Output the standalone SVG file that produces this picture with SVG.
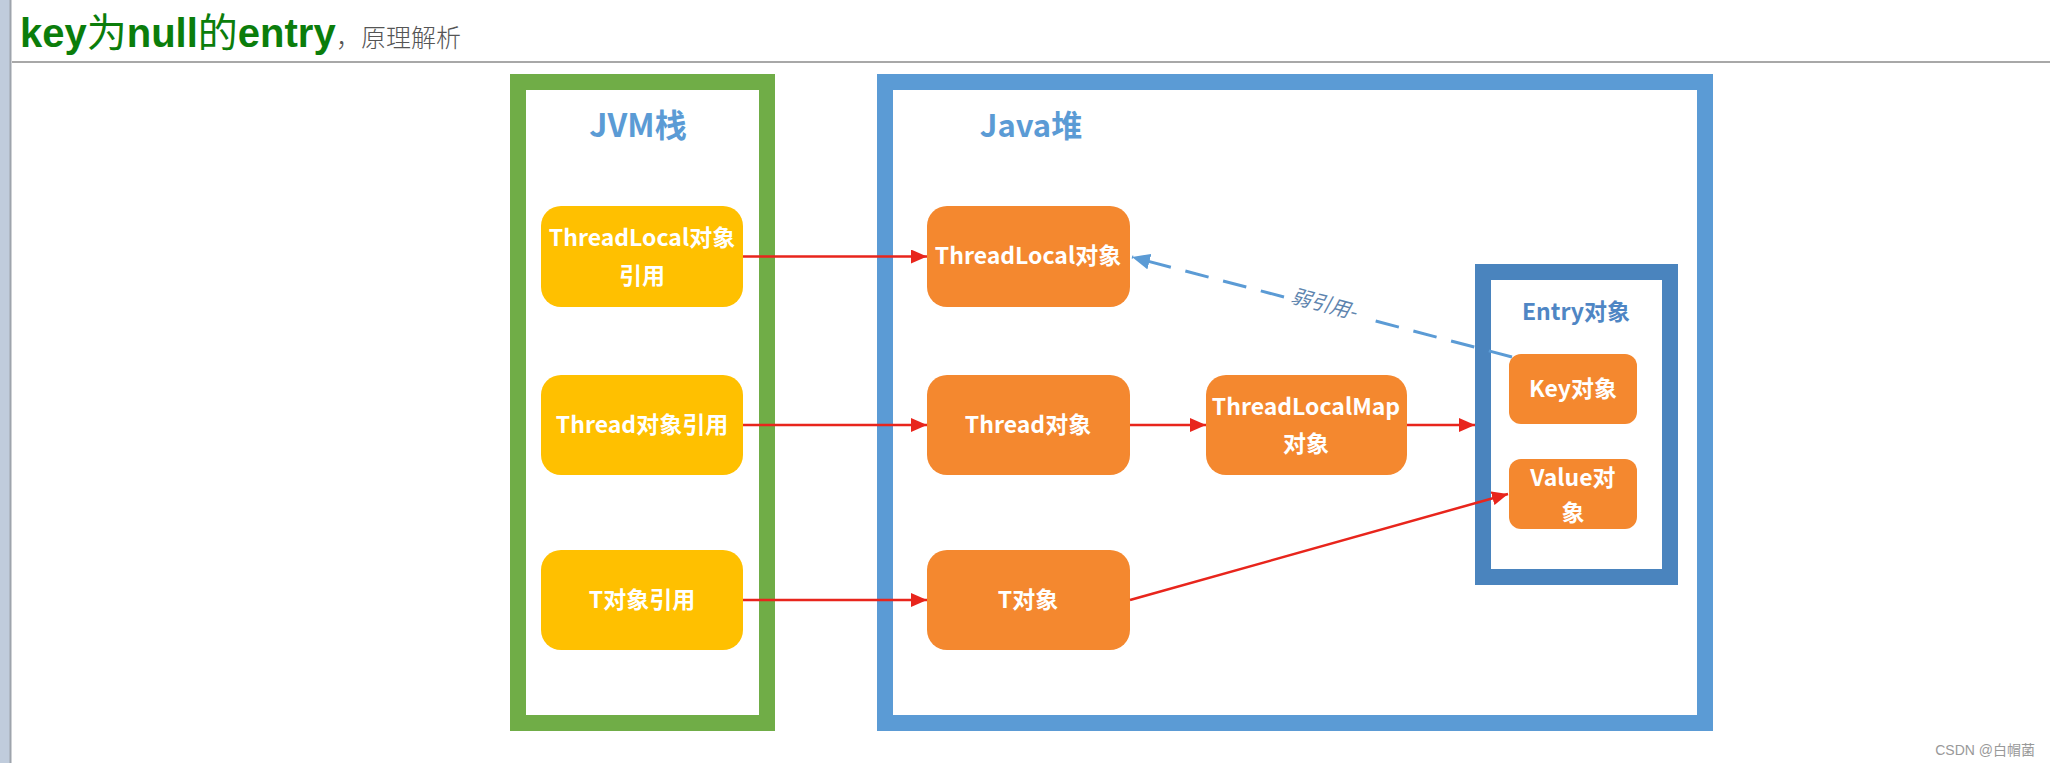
<svg xmlns="http://www.w3.org/2000/svg" width="2050" height="763" viewBox="0 0 2050 763">
  <style>
    .cjk { font-family: "Noto Sans CJK SC", "Noto Sans", sans-serif; }
    .boxtxt { font-family: "Noto Sans CJK SC", "Noto Sans", sans-serif; font-weight: bold; font-size: 23px; fill: #ffffff; text-anchor: middle; }
    .yellow { fill: #FFC000; }
    .orange { fill: #F4882F; }
    .region { fill: none; stroke-width: 16; }
    .title { font-family: "Noto Sans CJK SC", "Noto Sans", sans-serif; font-weight: bold; text-anchor: middle; }
    .red { stroke: #E8251C; stroke-width: 2.5; fill: none; }
    .weak { stroke: #5B9BD5; stroke-width: 3; fill: none; stroke-dasharray: 24 15; }
  </style>
  <defs>
    <marker id="arrRed" markerUnits="userSpaceOnUse" markerWidth="16" markerHeight="14" refX="16" refY="7" orient="auto">
      <path d="M0,0 L16,7 L0,14 z" fill="#E8251C"/>
    </marker>
    <marker id="arrBlue" markerUnits="userSpaceOnUse" markerWidth="18" markerHeight="16" refX="18" refY="8" orient="auto">
      <path d="M0,0 L18,8 L0,16 z" fill="#5B9BD5"/>
    </marker>
  </defs>

  <rect x="0" y="0" width="2050" height="763" fill="#ffffff"/>

  <!-- page chrome -->
  <g id="page">
    <rect x="0" y="0" width="10" height="763" fill="#C0CCDC"/>
    <line x1="10.5" y1="0" x2="10.5" y2="763" stroke="#9EA4AC" stroke-width="2"/>
    <line x1="12" y1="62" x2="2050" y2="62" stroke="#A8A8A8" stroke-width="2"/>
    <text x="20" y="47" font-family="'Liberation Sans', 'Noto Sans CJK SC', sans-serif" font-weight="bold" font-size="40" fill="#0B7D0B">key<tspan font-family="'Noto Sans CJK SC', sans-serif" font-weight="normal">为</tspan>null<tspan font-family="'Noto Sans CJK SC', sans-serif" font-weight="normal">的</tspan>entry</text>
    <text x="336" y="47" font-family="'Noto Sans CJK SC', sans-serif" font-weight="300" font-size="25" fill="#555555">，原理解析</text>
    <text x="2035" y="755" font-family="'Liberation Sans', 'Noto Sans CJK SC', sans-serif" font-size="14" fill="#999999" text-anchor="end">CSDN @白帽菌</text>
  </g>

  <!-- regions -->
  <g id="jvm-stack">
    <rect class="region" x="518" y="82" width="249" height="641" stroke="#70AD47"/>
    <text class="title" x="638" y="137" font-size="32" fill="#5B9BD5">JVM栈</text>
  </g>
  <g id="java-heap">
    <rect class="region" x="885" y="82" width="820" height="641" stroke="#5B9BD5"/>
    <text class="title" x="1031" y="137" font-size="31" fill="#5B9BD5">Java堆</text>
  </g>
  <g id="entry">
    <rect class="region" x="1483" y="272" width="187" height="305" stroke="#4A84BE"/>
    <text class="title" x="1576" y="320" font-size="23" fill="#4F86C4">Entry对象</text>
  </g>

  <!-- stack nodes -->
  <g id="tl-ref">
    <rect class="yellow" x="541" y="206" width="202" height="101" rx="20"/>
    <text class="boxtxt" x="642" y="246">ThreadLocal对象</text>
    <text class="boxtxt" x="642" y="284">引用</text>
  </g>
  <g id="thread-ref">
    <rect class="yellow" x="541" y="375" width="202" height="100" rx="20"/>
    <text class="boxtxt" x="642" y="433">Thread对象引用</text>
  </g>
  <g id="t-ref">
    <rect class="yellow" x="541" y="550" width="202" height="100" rx="20"/>
    <text class="boxtxt" x="642" y="608">T对象引用</text>
  </g>

  <!-- heap nodes -->
  <g id="tl-obj">
    <rect class="orange" x="927" y="206" width="203" height="101" rx="20"/>
    <text class="boxtxt" x="1028" y="264">ThreadLocal对象</text>
  </g>
  <g id="thread-obj">
    <rect class="orange" x="927" y="375" width="203" height="100" rx="20"/>
    <text class="boxtxt" x="1028" y="433">Thread对象</text>
  </g>
  <g id="tlmap-obj">
    <rect class="orange" x="1206" y="375" width="201" height="100" rx="20"/>
    <text class="boxtxt" x="1306" y="415">ThreadLocalMap</text>
    <text class="boxtxt" x="1306" y="452">对象</text>
  </g>
  <g id="t-obj">
    <rect class="orange" x="927" y="550" width="203" height="100" rx="20"/>
    <text class="boxtxt" x="1028" y="608">T对象</text>
  </g>
  <g id="key-obj">
    <rect class="orange" x="1509" y="354" width="128" height="70" rx="12"/>
    <text class="boxtxt" x="1573" y="397">Key对象</text>
  </g>
  <g id="value-obj">
    <rect class="orange" x="1509" y="459" width="128" height="70" rx="12"/>
    <text class="boxtxt" x="1573" y="486">Value对</text>
    <text class="boxtxt" x="1573" y="521">象</text>
  </g>

  <!-- connectors -->
  <g id="connectors">
    <line class="red" x1="743" y1="256.5" x2="927" y2="256.5" marker-end="url(#arrRed)"/>
    <line class="red" x1="743" y1="425" x2="927" y2="425" marker-end="url(#arrRed)"/>
    <line class="red" x1="743" y1="600" x2="927" y2="600" marker-end="url(#arrRed)"/>
    <line class="red" x1="1130" y1="425" x2="1206" y2="425" marker-end="url(#arrRed)"/>
    <line class="red" x1="1407" y1="425" x2="1475" y2="425" marker-end="url(#arrRed)"/>
    <line class="red" x1="1130" y1="600" x2="1508" y2="494" marker-end="url(#arrRed)"/>
    <line class="weak" x1="1512" y1="357" x2="1368" y2="319"/>
    <line class="weak" x1="1284" y1="297" x2="1132" y2="257" marker-end="url(#arrBlue)"/>
    <text x="1324" y="311" transform="rotate(14.7 1324 304)" font-family="'Noto Sans CJK SC', sans-serif" font-size="20" font-style="italic" fill="#5E84AE" text-anchor="middle">弱引用-</text>
  </g>
</svg>
